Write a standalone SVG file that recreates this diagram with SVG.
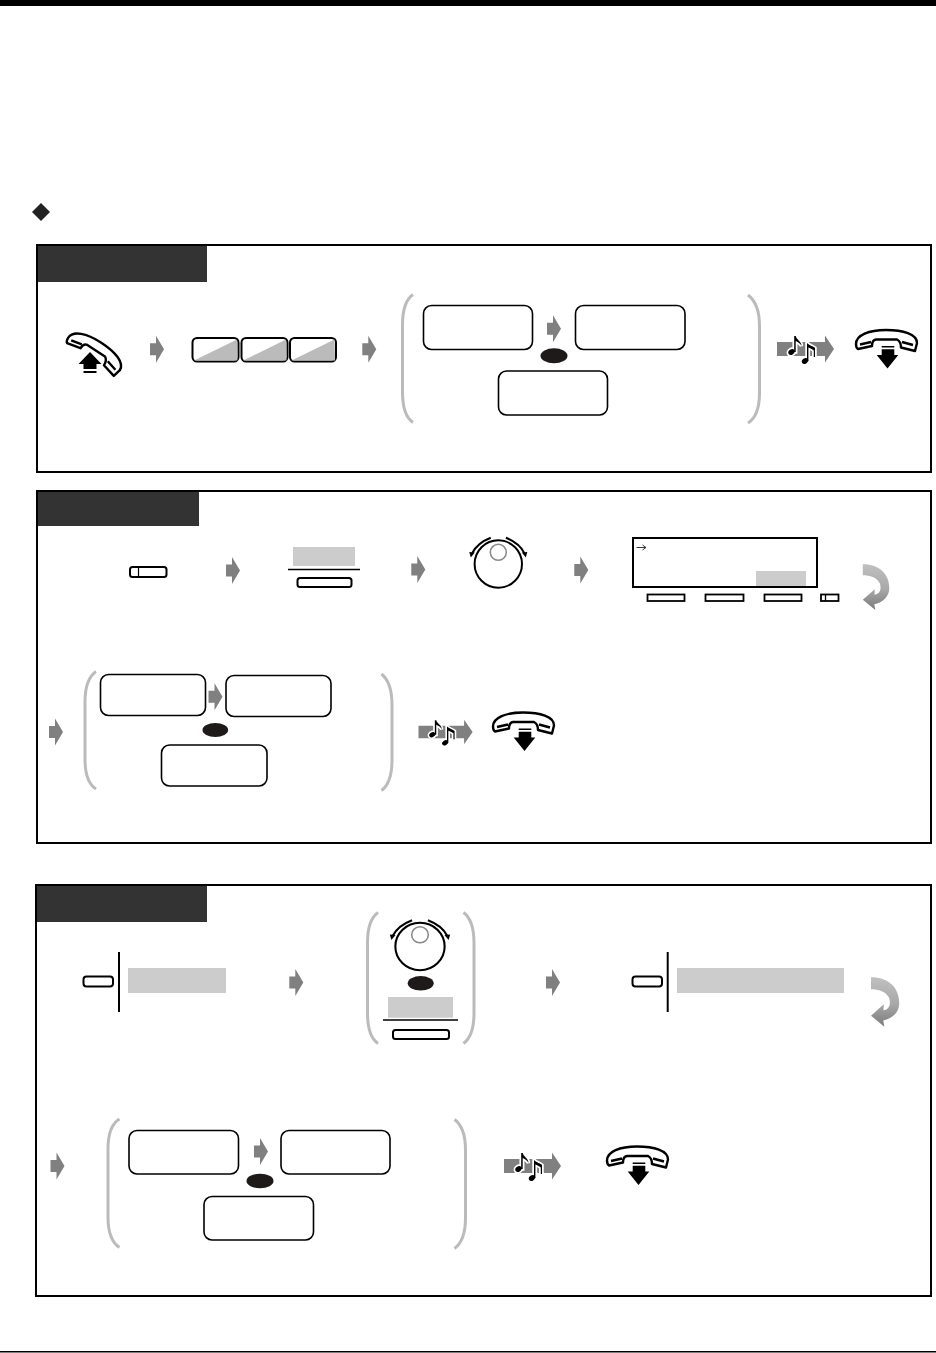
<svg xmlns="http://www.w3.org/2000/svg" xmlns:xlink="http://www.w3.org/1999/xlink" width="936" height="1353" viewBox="0 0 936 1353">
<style>
.panel{fill:#fff;stroke:#000;stroke-width:2}
.head{fill:#333}
.box{fill:#fff;stroke:#000;stroke-width:1.6}
.or{fill:#1e1a1a}
.br{fill:none;stroke:#bbb;stroke-width:3}
.key{fill:#fff;stroke:#000;stroke-width:2}
.soft{fill:#fff;stroke:#000;stroke-width:1.8}
.lbl{fill:#ccc}
.rule{stroke:#000;stroke-width:1.3;fill:none}
.vr{stroke:#000;stroke-width:2;fill:none}
.hs{fill:#fff;stroke:#000;stroke-width:2.4;stroke-linejoin:round}
.arr{fill:#808080}
</style>
<defs>
<linearGradient id="curl" x1="0" y1="0" x2="0" y2="1"><stop offset="0" stop-color="#c0c0c0"/><stop offset="0.55" stop-color="#a8a8a8"/><stop offset="1" stop-color="#7a7a7a"/></linearGradient>
<polygon id="step" class="arr" points="0,-6 6,-6 6,-13.5 14,0 6,13.5 6,6 0,6"/>
<g id="n"><ellipse cx="14.500" cy="3" rx="3.400" ry="2.600" transform="rotate(-35 14.500 3)"/><path d="M17.200,-13 H18.700 C19.500,-9 24.500,-8 24.500,-3 C23,-6 20.500,-7 18.700,-8 V3 H17.200 Z"/><ellipse cx="28" cy="12" rx="3.400" ry="2.600" transform="rotate(-35 28 12)"/><path d="M30,-6 C33,-3 36,-3 38,-1 V8 H36.800 V1.500 C35,0 33,-1 31.400,-1.500 V12 H30 Z"/></g>
<g id="tone"><polygon class="arr" points="0,-7 48,-7 48,-13.500 57,0 48,13.500 48,7 0,7"/><use href="#n" fill="#fff" stroke="#fff" stroke-width="3.500"/><use href="#n" fill="#000"/></g>
<path id="handset" class="hs" d="M1,14 C1,5 14,0 31,0 C48,0 62,4 62,13 L60,21 L46,17.500 C46,14 45,11 42,9.500 L21,9.500 C18,10 17,13 17,16 L3,19 C1.500,18 1,16 1,14 Z M5,14.500 L16,12 M47,12 L58,15"/>
<g id="hangup"><use href="#handset"/><path d="M26.700,16 H39.300 V17.500 H26.700 Z M26.700,19.300 H39.300 V25 H43.300 L32.500,38.500 L21.700,25 H26.700 Z" fill="#000"/></g>
<g id="dial"><circle r="23.700" fill="#fff" stroke="#000" stroke-width="2"/><circle cy="-11.700" r="8" fill="#fff" stroke="#888" stroke-width="1.500"/><path d="M-7.600,-26.300 C-16,-23 -23,-17 -26,-11" fill="none" stroke="#000" stroke-width="2"/><path d="M7.600,-26.300 C16,-23 23,-17 26,-11" fill="none" stroke="#000" stroke-width="2"/><polygon points="-29,-12 -23.500,-11.500 -27.500,-6.500"/><polygon points="29,-12 23.500,-11.500 27.500,-6.500"/></g>
<path id="back" fill="url(#curl)" d="M0,0 C17,0 26.500,10 26.500,24 C26.500,33 19,38.500 11.500,40 L12.500,45.700 L0,35.500 L12,25 L11.700,30.500 C17,30 19,25 17,19 C14,13 7,11 0,11 Z"/>
</defs>

<rect x="0" y="0" width="936" height="6" fill="#000"/>
<rect x="0" y="1351" width="936" height="1.500" fill="#000"/>
<polygon id="diamond" points="41,203 50,212 41,221 32,212" fill="#222"/>

<g id="panel-1">
<rect class="panel" x="37" y="245" width="894" height="227"/>
<rect class="head" x="38" y="246" width="169" height="36"/>
</g>
<g id="panel-2">
<rect class="panel" x="37" y="491" width="894" height="352"/>
<rect class="head" x="38" y="492" width="161" height="34"/>
</g>
<g id="panel-3">
<rect class="panel" x="36" y="885" width="895" height="411"/>
<rect class="head" x="37" y="886" width="170" height="36"/>
</g>

<g id="p1-offhook">
<use href="#handset" transform="translate(96 350) rotate(33) translate(-31 -9)"/>
<path d="M90,352 L101.500,364 H96.500 V369 H83.500 V364 H78.500 Z M83.500,371 H96.500 V373 H83.500 Z" fill="#000"/>
</g>
<g id="p1-keys">
<g><rect class="key" x="192.500" y="338" width="46" height="23.500" rx="4.500"/><polygon points="194,360.500 237,339.500 237.500,360.500" fill="#bbb"/></g>
<g><rect class="key" x="241.500" y="338" width="46" height="23.500" rx="4.500"/><polygon points="243,360.500 286,339.500 286.500,360.500" fill="#bbb"/></g>
<g><rect class="key" x="290" y="338" width="46" height="23.500" rx="4.500"/><polygon points="291.500,360.500 334.500,339.500 335,360.500" fill="#bbb"/></g>
</g>
<g id="p1-choice">
<path class="br" d="M413,294.500 C405,300 402.500,310 402.500,325 V392 C402.500,407 405,417 413,422.500"/>
<path class="br" d="M748,295 C756,301 759.500,311 759.500,326 V393 C759.500,408 756,418 748,423"/>
<rect class="box" x="423.500" y="305.500" width="109" height="44" rx="8"/>
<rect class="box" x="575.500" y="305.500" width="109.500" height="44" rx="8"/>
<rect class="box" x="498.500" y="371" width="109" height="44" rx="8"/>
<ellipse class="or" cx="554" cy="355.700" rx="13.500" ry="7.500"/>
</g>
<use id="p1-tone" href="#tone" x="777" y="349"/>
<use id="p1-hangup" href="#hangup" x="855" y="330"/>

<g id="p2-key"><rect class="key" x="130" y="567" width="36.500" height="10" rx="2.500"/><path d="M138.500,567 V577" stroke="#000" stroke-width="1.200"/></g>
<g id="p2-softkey"><rect class="lbl" x="293" y="547" width="62" height="19"/><path class="rule" d="M288,569.500 H360"/><rect class="key" x="297.500" y="578" width="54" height="9" rx="2.500"/></g>
<use id="p2-dial" href="#dial" x="498.300" y="564"/>
<g id="p2-display">
<rect x="633" y="538" width="184" height="49" fill="#fff" stroke="#000" stroke-width="2"/>
<rect class="lbl" x="756" y="571" width="50" height="15"/>
<path d="M636.500,547.500 H645.500 M642.500,545 L646,547.500 L642.500,550" fill="none" stroke="#222" stroke-width="0.900"/>
<rect class="soft" x="647.500" y="594.500" width="37" height="6.500"/>
<rect class="soft" x="705.500" y="594.500" width="38" height="6.500"/>
<rect class="soft" x="764.500" y="594.500" width="37" height="6.500"/>
<rect class="soft" x="821" y="594.500" width="17.500" height="6.500"/>
<path d="M825.500,594.500 V601" stroke="#000" stroke-width="1.300"/>
</g>
<use id="p2-repeat" href="#back" x="862.800" y="564.300"/>
<g id="p2-choice">
<path class="br" d="M96,671.500 C88,677 85,687 85,702 V759 C85,774 88,784 96,789"/>
<path class="br" d="M381.500,674 C389,680 392,690 392,705 V760 C392,775 389,785 381.500,790.500"/>
<rect class="box" x="100.500" y="674.500" width="105" height="41" rx="8"/>
<rect class="box" x="226" y="675.500" width="105" height="41" rx="8"/>
<rect class="box" x="161.500" y="745" width="105.500" height="41" rx="8"/>
<ellipse class="or" cx="215.300" cy="730" rx="12.800" ry="7"/>
</g>
<use id="p2-tone" href="#tone" transform="translate(418.500 732) scale(0.950 0.900)"/>
<use id="p2-hangup" href="#hangup" x="492" y="712.500"/>

<g id="p3-key-1"><rect class="key" x="83.500" y="976.500" width="29.500" height="10" rx="3"/><path class="vr" d="M119,952 V1012"/><rect class="lbl" x="128" y="968" width="98" height="25"/></g>
<g id="p3-select">
<path class="br" d="M378,912.500 C370,918 367.500,928 367.500,943 V1013 C367.500,1028 370,1038 378,1043.500"/>
<path class="br" d="M463.500,912.500 C471,918 474,928 474,943 V1013 C474,1028 471,1038 463.500,1043.500"/>
<use href="#dial" transform="translate(420 946.500) scale(1.040 1)"/>
<ellipse class="or" cx="420.700" cy="983.300" rx="13" ry="7.300"/>
<rect class="lbl" x="388" y="997" width="65" height="20.700"/>
<path class="rule" d="M383,1020 H458"/>
<rect class="key" x="393" y="1030" width="56" height="9" rx="2.500"/>
</g>
<g id="p3-key-2"><rect class="key" x="632.500" y="976.500" width="29.500" height="10" rx="3"/><path class="vr" d="M667.700,952 V1012"/><rect class="lbl" x="677" y="968" width="167" height="25"/></g>
<use id="p3-repeat" href="#back" transform="translate(871 977.300) scale(1.065 1.080)"/>
<g id="p3-choice">
<path class="br" d="M119.500,1119 C111,1124 108,1134 108,1149 V1217 C108,1232 111,1242 119.500,1247.500"/>
<path class="br" d="M454.500,1119.500 C462,1125 465.500,1135 465.500,1150 V1218 C465.500,1233 462,1243 454.500,1248.500"/>
<rect class="box" x="129" y="1130.500" width="109.500" height="43.500" rx="8"/>
<rect class="box" x="281" y="1130.500" width="109" height="43.500" rx="8"/>
<rect class="box" x="204" y="1196.500" width="109.500" height="43.500" rx="8"/>
<ellipse class="or" cx="260" cy="1181" rx="13.500" ry="7.300"/>
</g>
<use id="p3-tone" href="#tone" x="504" y="1166"/>
<use id="p3-hangup" href="#hangup" x="606" y="1146.500"/>

<g id="connectors">
<use href="#step" x="150" y="349.200"/>
<use href="#step" x="362.300" y="349.200"/>
<use href="#step" x="547" y="328.700"/>
<use href="#step" x="226" y="570.500"/>
<use href="#step" x="411.300" y="569.500"/>
<use href="#step" x="574.300" y="570"/>
<use href="#step" x="49" y="732"/>
<use href="#step" x="208.500" y="696.800"/>
<use href="#step" x="289.300" y="982.500"/>
<use href="#step" x="546" y="982.500"/>
<use href="#step" x="50.500" y="1166"/>
<use href="#step" x="254" y="1151.500"/>
</g>
</svg>
